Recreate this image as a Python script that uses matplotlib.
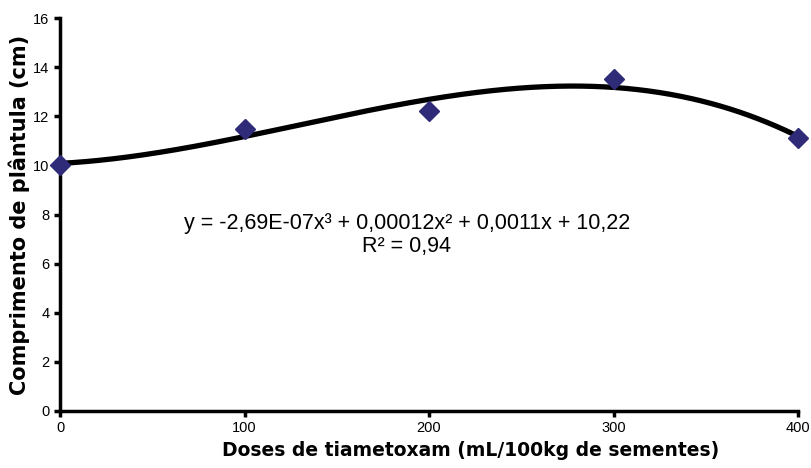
import matplotlib.pyplot as plt
import numpy as np

doses = [0, 100, 200, 300, 400]
comprimento = [10.0, 11.5, 12.2, 13.5, 11.1]
x_ticks = [0, 100, 200, 300, 400]
y_ticks = [0, 2, 4, 6, 8, 10, 12, 14, 16]
equacao = "y = -2,69E-07x³ + 0,00012x² + 0,0011x + 10,22"
r2 = "R² = 0,94"

plt.rcParams['font.family'] = ['Liberation Sans', 'DejaVu Sans']

fig = plt.figure(figsize=(8.12, 4.68), dpi=100)
ax = fig.add_axes([0.0739, 0.1218, 0.9089, 0.8397])

# cubic trendline
coef = np.polyfit(doses, comprimento, 3)
xs = np.linspace(0, 400, 400)
ax.plot(xs, np.polyval(coef, xs), color='black', lw=3.8, zorder=2)
ax.plot(doses, comprimento, 'D', color='#2f2b78', ms=10.5, zorder=3, clip_on=False)

ax.set_xlim(0, 400)
ax.set_ylim(0, 16)
ax.set_xticks(x_ticks)
ax.set_yticks(y_ticks)
for s in ['top', 'right']:
    ax.spines[s].set_visible(False)
for s in ['left', 'bottom']:
    ax.spines[s].set_linewidth(2.5)
ax.tick_params(direction='out', length=4, width=2.5, labelsize=10.5)

ax.set_xlabel("Doses de tiametoxam (mL/100kg de sementes)", fontsize=13.5, fontweight='bold',
              family='DejaVu Sans', labelpad=4, x=0.557)
ax.set_ylabel("Comprimento de plântula (cm)", fontsize=15, fontweight='bold',
              family='DejaVu Sans', labelpad=2)

ax.text(188, 7.65, equacao, ha='center', va='center', fontsize=15.5)
ax.text(188, 6.68, r2, ha='center', va='center', fontsize=15.5)

fig.savefig('out.png', dpi=100)
